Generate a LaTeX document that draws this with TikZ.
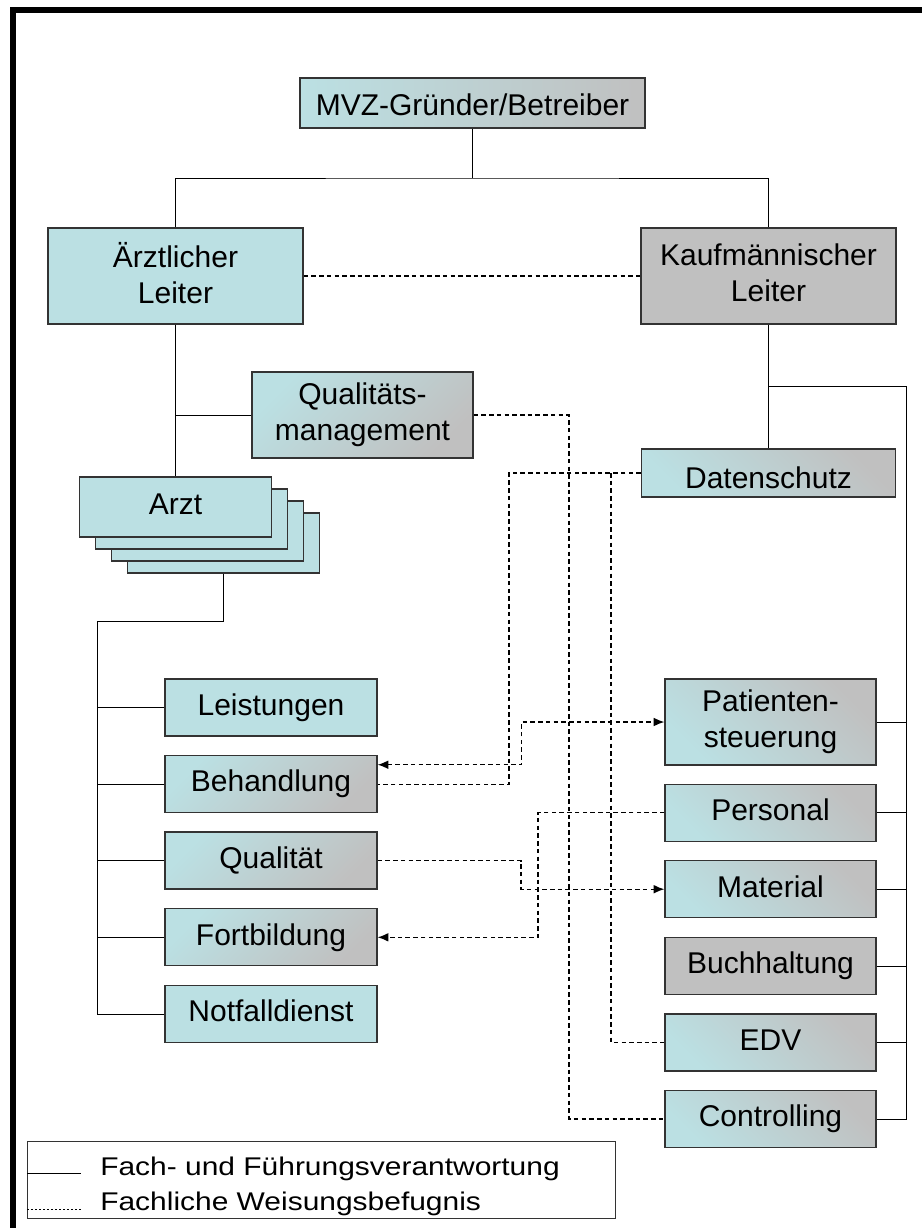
\documentclass[tikz,border=0pt]{standalone}
\usepackage{fontspec}
\setmainfont{Liberation Sans}
\usepackage{graphicx}
\usetikzlibrary{arrows.meta}
\definecolor{cy}{RGB}{187,224,227}
\definecolor{gr}{RGB}{192,192,192}
\definecolor{bd}{RGB}{51,51,51}
\newcommand{\lnstrut}{\rule[-4.5pt]{0pt}{20.7pt}}
\newcommand{\lowstrut}{\rule[-2pt]{0pt}{22pt}}
\begin{document}
\begin{tikzpicture}[x=0.75pt,y=-0.75pt,
  box/.style={draw=bd,line width=0.9pt,inner sep=0pt,align=center,
    font=\fontsize{22.5pt}{27pt}\selectfont},
  solidcy/.style={box,fill=cy},
  solidgr/.style={box,fill=gr},
  hgrad/.style={box,left color=cy,right color=gr},
  dgrad/.style={box,shading=axis,top color=cy,bottom color=gr,shading angle=45},
  ugrad/.style={box,shading=axis,top color=gr,bottom color=cy,shading angle=-45},
  lcol/.style={minimum width=159pt,minimum height=42.75pt},
  rcol/.style={minimum width=158.25pt,minimum height=42.75pt},
  conn/.style={line width=0.75pt,black},
  wl/.style={line width=1pt,black,dash pattern=on 3.4pt off 2.4pt},
  tip/.style={-{Latex[length=8pt,width=6.5pt]}},
  tips/.style={{Latex[length=8pt,width=6.5pt]}-{Latex[length=8pt,width=6.5pt]}},
  legtext/.style={anchor=base west,inner sep=0pt,font=\fontsize{19.2pt}{23pt}\selectfont}
]
\fill[white] (0,0) rectangle (922,1228);
\useasboundingbox (0,0) rectangle (922,1228);
% frame
\fill[black] (10,7) rectangle (16,1228);
\fill[black] (10,7) rectangle (922,13);

% top
\node[hgrad,minimum width=258.75pt,minimum height=37.5pt] (mvz) at (472.5,103) {\lowstrut MVZ-Gründer/Betreiber};
\node[solidcy,minimum width=191.25pt,minimum height=72pt] (al) at (175.5,276) {\lnstrut Ärztlicher\\\lnstrut Leiter};
\node[solidgr,minimum width=191.25pt,minimum height=72pt] (kl) at (768.5,276) {\lnstrut Kaufmännischer\\\lnstrut Leiter};
\node[dgrad,minimum width=165.75pt,minimum height=64.5pt] (qm) at (362.5,415) {\lnstrut Qualitäts-\\\lowstrut management};

% Arzt stack
\node[solidcy,minimum width=144pt,minimum height=45pt] (arzt4) at (223.5,543) {};
\node[solidcy,minimum width=144pt,minimum height=45pt] (arzt3) at (207.5,531) {};
\node[solidcy,minimum width=144pt,minimum height=45pt] (arzt2) at (191.5,519) {};
\node[solidcy,minimum width=144pt,minimum height=45pt] (arzt) at (175.5,507) {\lnstrut Arzt};

\node[ugrad,minimum width=190.5pt,minimum height=36pt] (ds) at (768.5,473) {\rule[1pt]{0pt}{22pt}Datenschutz};

% left column
\node[solidcy,lcol] (le) at (271,707.4) {\lnstrut Leistungen};
\node[dgrad,lcol] (be) at (271,784.2) {\lnstrut Behandlung};
\node[dgrad,lcol] (qu) at (271,860.5) {\lnstrut Qualität};
\node[dgrad,lcol] (fo) at (271,937.3) {\lnstrut Fortbildung};
\node[solidcy,lcol] (nd) at (271,1014) {\lnstrut Notfalldienst};

% right column
\node[ugrad,minimum width=158.25pt,minimum height=64.5pt] (pa) at (770.5,722) {\lnstrut Patienten-\\\lowstrut steuerung};
\node[ugrad,rcol] (pe) at (770.5,812.8) {\lnstrut Personal};
\node[ugrad,rcol] (ma) at (770.5,889.2) {\lnstrut Material};
\node[solidgr,rcol] (bu) at (770.5,966) {\lnstrut Buchhaltung};
\node[ugrad,rcol] (edv) at (770.5,1042.5) {\lnstrut EDV};
\node[ugrad,rcol] (co) at (770.5,1119) {\lnstrut Controlling};

% solid connectors
\coordinate (j1) at (472.5,178);
\draw[conn] (mvz.south) -- (j1);
\draw[conn] (al.north) |- (j1) -| (kl.north);
\draw[conn] (al.south) -- (arzt.north);
\draw[conn] (qm.west) -- (qm.west -| al.south);
\coordinate (lb) at (97,621);
\draw[conn] (arzt4.south) |- (lb) |- (nd.west);
\foreach \n in {le,be,qu,fo} \draw[conn] (\n.west) -- (\n.west -| lb);
\draw[conn] (kl.south) -- (ds.north);
\coordinate (rb) at (906,386);
\draw[conn] (kl.south |- rb) -- (rb) |- (co.east);
\foreach \n in {pa,pe,ma,bu,edv} \draw[conn] (\n.east) -- (\n.east -| rb);

% dashed connectors
\draw[wl] (al.east) -- (kl.west);
\coordinate (qmx) at (569,415);
\draw[wl] (qm.east) -- (qmx) |- (co.west);
\coordinate (dsa) at (509,473);
\coordinate (dsb) at (611,473);
\draw[wl] (ds.west) -- (dsa) |- (be.east);
\draw[wl] (dsb) |- (edv.west);
\draw[wl,tips] ([yshift=14.6pt]be.east) -| (521.7,722) -- (pa.west);
\draw[wl,tip] (qu.east) -| (521,889.2) -- (ma.west);
\draw[wl,tip] (pe.west) -| (538,937.3) -- (fo.east);

% legend
\draw[line width=0.75pt,bd] (27,1141) rectangle (615,1218);
\coordinate (ls1) at (27,1173);
\coordinate (le1) at (81,1173);
\coordinate (ls2) at (27,1209);
\coordinate (le2) at (81,1209);
\draw[line width=0.75pt,black] (ls1) -- (le1);
\draw[line width=0.6pt,black,dash pattern=on 1.5pt off 1.5pt] (ls2) -- (le2);
\node[legtext] (lg1) at (100,1175) {\scalebox{1.17}[1]{Fach- und Führungsverantwortung}};
\node[legtext] (lg2) at (100,1210) {\scalebox{1.17}[1]{Fachliche Weisungsbefugnis}};
\end{tikzpicture}
\end{document}
